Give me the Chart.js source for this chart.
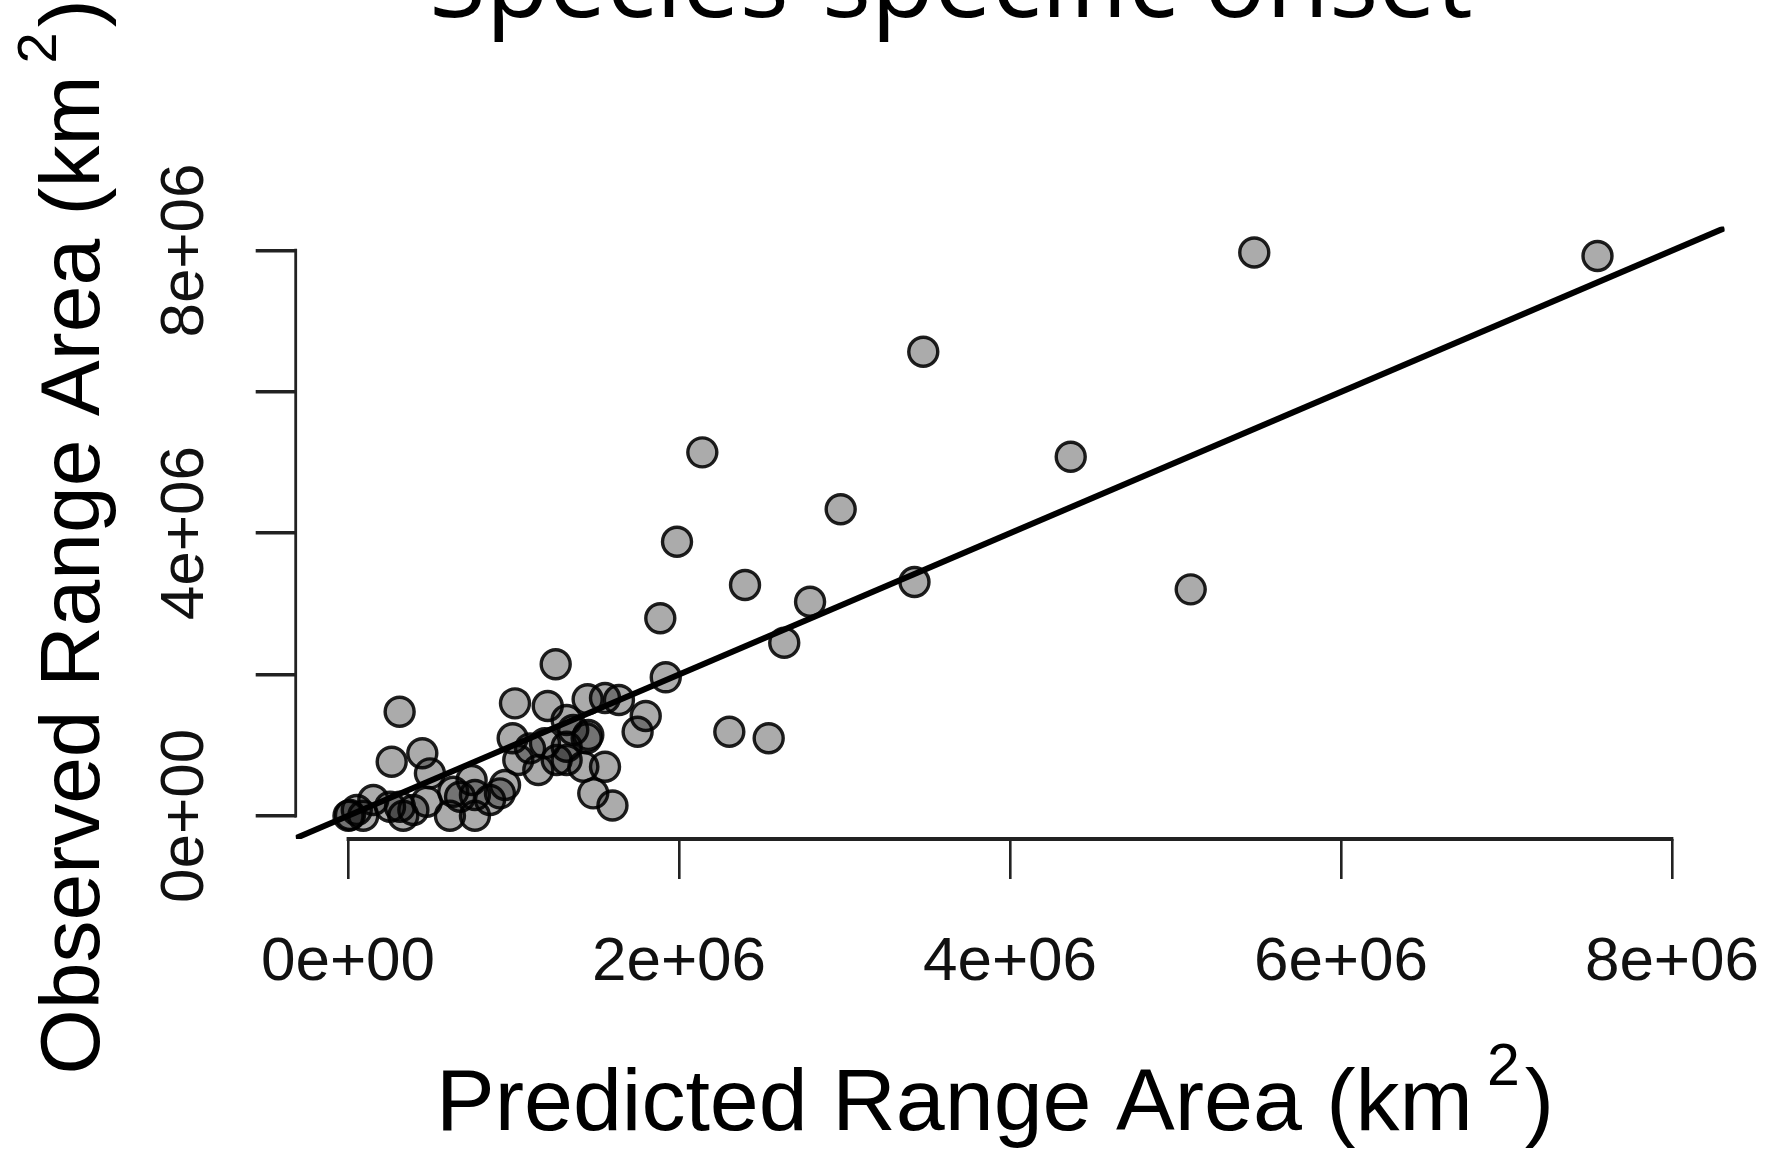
<!DOCTYPE html>
<html><head><meta charset="utf-8">
<script src="https://cdn.jsdelivr.net/npm/chart.js@4.4.1/dist/chart.umd.min.js"></script>
<style>html,body{margin:0;padding:0;background:#fff;overflow:hidden}canvas{display:block}</style>
</head><body>
<canvas id="c" width="1767" height="1151"></canvas>
<script>
// ---- data (km^2) ----
const predictedArea = [
  5.476e6, 7.550e6, 3.476e6, 2.141e6, 4.367e6, 2.977e6, 1.988e6, 2.399e6, 3.423e6, 5.092e6,
  2.792e6, 1.887e6, 2.636e6, 1.920e6, 1.799e6, 1.750e6, 2.304e6, 2.542e6, 1.637e6, 1.553e6,
  1.553e6, 1.598e6, 1.255e6, 0.312e6, 1.009e6, 1.207e6, 1.448e6, 0.264e6, 0.449e6, 0.495e6,
  0.995e6, 1.190e6, 1.442e6, 1.361e6, 1.321e6, 1.029e6, 1.150e6, 1.261e6, 1.321e6, 1.422e6,
  1.482e6, 0.747e6, 0.636e6, 0.949e6, 0.918e6, 0.858e6, 0.767e6, 0.677e6, 0.616e6, 0.767e6,
  0.476e6, 0.395e6, 0.314e6, 0.254e6, 0.334e6, 0.153e6, 0.053e6, 0.012e6, 0.003e6, 0.092e6,
  1.452e6, 1.321e6, 1.100e6
];
const observedArea = [
  7.972e6, 7.922e6, 6.568e6, 5.144e6, 5.082e6, 4.338e6, 3.879e6, 3.266e6, 3.309e6, 3.205e6,
  3.030e6, 2.795e6, 2.450e6, 1.960e6, 1.412e6, 1.190e6, 1.190e6, 1.097e6, 1.639e6, 1.667e6,
  0.695e6, 0.146e6, 2.144e6, 1.473e6, 1.592e6, 1.554e6, 1.649e6, 0.766e6, 0.885e6, 0.601e6,
  1.097e6, 1.026e6, 1.097e6, 1.214e6, 1.356e6, 0.790e6, 0.648e6, 0.790e6, 0.790e6, 0.695e6,
  0.318e6, 0.507e6, 0.341e6, 0.436e6, 0.318e6, 0.224e6, 0.294e6, 0.270e6, 0.000e6, 0.000e6,
  0.200e6, 0.082e6, 0.129e6, 0.129e6, 0.000e6, 0.224e6, 0.082e6, 0.011e6, 0.000e6, 0.000e6,
  1.143e6, 0.978e6, 0.955e6
];
const tickValues = [0, 2e6, 4e6, 6e6, 8e6];
const xTickLabels = ['0e+00', '2e+06', '4e+06', '6e+06', '8e+06'];
const yTickLabels = ['0e+00', '', '4e+06', '', '8e+06'];
const refIntercept = 0;   // 1:1 line
const refSlope = 1;
const chartTitle = 'Species-specific onset';
const xTitleText = 'Predicted Range Area';
const yTitleText = 'Observed Range Area';
const unitBase = 'km';
const unitPower = '2';

// ---- axis limits ----
const xMin = -0.316e6, xMax = 8.318e6;
const yMin = -0.328e6, yMax = 8.34e6;

const points = predictedArea.map((x, i) => ({x: x, y: observedArea[i]}));
const refLine = [xMin, xMax].map(x => ({x: x, y: refIntercept + refSlope * x}));

const SANS = '"Liberation Sans", Arial, Helvetica, sans-serif';

function drawRichTitle(ctx, main, big, small, rise, gap2) {
  const parts = [
    {t: main + ' (' + unitBase, size: big, rise: 0, gap: 0},
    {t: unitPower, size: small, rise: rise, gap: gap2},
    {t: ')', size: big, rise: 0, gap: 5}
  ];
  let total = 0;
  parts.forEach(p => { ctx.font = p.size + 'px ' + SANS; p.w = ctx.measureText(p.t).width; total += p.w + p.gap; });
  let x = -total / 2;
  ctx.textAlign = 'left';
  ctx.textBaseline = 'alphabetic';
  ctx.fillStyle = '#000';
  parts.forEach(p => {
    x += p.gap;
    ctx.font = p.size + 'px ' + SANS;
    ctx.fillText(p.t, x, -p.rise);
    x += p.w;
  });
}

const decorPlugin = {
  id: 'decor',
  afterDraw(chart) {
    const ctx = chart.ctx;
    const xs = chart.scales.x, ys = chart.scales.y;
    const area = chart.chartArea;
    ctx.save();
    // R-style axis lines spanning first..last tick
    ctx.strokeStyle = '#222';
    ctx.lineCap = 'butt';
    ctx.lineWidth = 2.8;
    ctx.beginPath();
    ctx.moveTo(area.left, ys.getPixelForValue(tickValues[0]) + 1.7);
    ctx.lineTo(area.left, ys.getPixelForValue(tickValues[tickValues.length - 1]) - 1.7);
    ctx.stroke();
    ctx.lineWidth = 3.8;
    ctx.beginPath();
    ctx.moveTo(xs.getPixelForValue(tickValues[0]) - 1.4, area.bottom);
    ctx.lineTo(xs.getPixelForValue(tickValues[tickValues.length - 1]) + 1.4, area.bottom);
    ctx.stroke();

    // main title (partly cut off at the top, as in the reference)
    ctx.fillStyle = '#000';
    ctx.font = '103px "Open Sans", sans-serif';
    ctx.textAlign = 'center';
    ctx.textBaseline = 'alphabetic';
    ctx.fillText(chartTitle, 951, 17);

    // x axis title
    ctx.save();
    ctx.translate(995, 1130);
    drawRichTitle(ctx, xTitleText, 88, 59, 45, 14);
    ctx.restore();

    // y axis title
    ctx.save();
    ctx.translate(99, 537);
    ctx.rotate(-Math.PI / 2);
    drawRichTitle(ctx, yTitleText, 84, 56, 43, 12);
    ctx.restore();
    ctx.restore();
  }
};

new Chart(document.getElementById('c'), {
  type: 'scatter',
  data: {
    datasets: [
      {
        data: refLine,
        showLine: true,
        borderColor: '#000',
        borderWidth: 6,
        pointRadius: 0,
        fill: false,
        clip: 0
      },
      {
        data: points,
        pointRadius: 14.5,
        pointBackgroundColor: 'rgba(0,0,0,0.33)',
        pointBorderColor: 'rgba(0,0,0,0.88)',
        pointBorderWidth: 3.4,
        clip: false
      }
    ]
  },
  options: {
    responsive: false,
    animation: false,
    devicePixelRatio: 1,
    layout: {padding: {top: 226.5, right: 42.4, bottom: 0, left: 0}},
    plugins: {legend: {display: false}, tooltip: {enabled: false}, title: {display: false}},
    scales: {
      x: {
        type: 'linear',
        min: xMin, max: xMax,
        afterFit(s) { s.height = 312; s.paddingLeft = 0; s.paddingRight = 0; },
        afterBuildTicks(s) { s.ticks = tickValues.map(v => ({value: v})); },
        border: {display: false},
        grid: {display: true, drawOnChartArea: false, drawTicks: true, tickLength: 40, lineWidth: 2.6, color: '#222'},
        ticks: {
          includeBounds: false,
          autoSkip: false,
          maxRotation: 0, minRotation: 0,
          padding: 47,
          color: '#111',
          font: {family: SANS, size: 62},
          callback: (v) => xTickLabels[tickValues.indexOf(v)]
        }
      },
      y: {
        type: 'linear',
        min: yMin, max: yMax,
        afterFit(s) { s.width = 295.7; s.paddingTop = 0; s.paddingBottom = 0; },
        afterBuildTicks(s) { s.ticks = tickValues.map(v => ({value: v})); },
        border: {display: false},
        grid: {display: true, drawOnChartArea: false, drawTicks: true, tickLength: 40, lineWidth: 3.4, color: '#222'},
        ticks: {
          includeBounds: false,
          autoSkip: false,
          minRotation: 90, maxRotation: 90,
          crossAlign: 'center',
          padding: -17.6,
          color: '#111',
          font: {family: SANS, size: 62},
          callback: (v) => yTickLabels[tickValues.indexOf(v)]
        }
      }
    }
  },
  plugins: [decorPlugin]
});
</script>
</body></html>
